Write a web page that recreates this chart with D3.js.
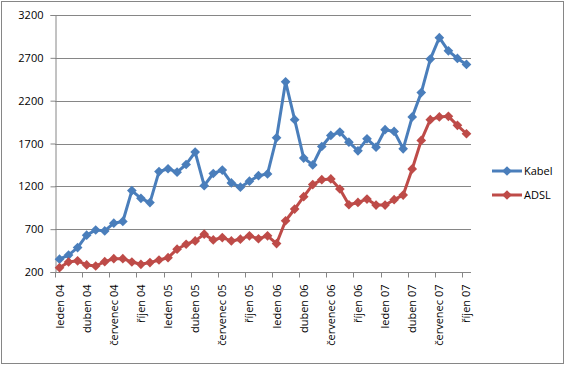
<!DOCTYPE html>
<html>
<head>
<meta charset="utf-8">
<script src="https://cdn.jsdelivr.net/npm/d3@7"></script>
<style>
  body { margin: 0; background: #fff; }
  text { font-family: "Open Sans", "Liberation Sans", sans-serif; font-size: 11px; fill: #000; }
</style>
</head>
<body>
<svg id="chart" width="566" height="366"></svg>
<script>
// months Jan 2004 .. Oct 2007
var monthNames = ['leden', 'únor', 'březen', 'duben', 'květen', 'červen',
  'červenec', 'srpen', 'září', 'říjen', 'listopad', 'prosinec'];
var years = ['04', '05', '06', '07'];
var months = [];
years.forEach(function(y) {
  monthNames.forEach(function(m) { months.push(m + ' ' + y); });
});
months = months.slice(0, 46);

var kabel = [350, 398, 485, 630, 690, 680, 770, 790, 1150, 1060, 1010, 1372,
  1405, 1365, 1455, 1600, 1208, 1350, 1390, 1240, 1190, 1260, 1325, 1345,
  1767, 2420, 1978, 1530, 1450, 1665, 1794, 1833, 1716, 1615, 1755, 1657,
  1861, 1841, 1638, 2010, 2294, 2685, 2935, 2782, 2693, 2623];
var adsl = [250, 317, 330, 282, 270, 320, 356, 356, 317, 290, 310, 340,
  367, 466, 524, 563, 641, 574, 602, 563, 583, 622, 588, 622,
  532, 798, 935, 1079, 1220, 1278, 1286, 1169, 985, 1012, 1051, 981,
  981, 1044, 1098, 1403, 1736, 1978, 2010, 2017, 1912, 1814];
var yTicks = [200, 700, 1200, 1700, 2200, 2700, 3200];

var series = [
  { name: 'Kabel', values: kabel, color: '#4A7EBB' },
  { name: 'ADSL', values: adsl, color: '#BE4B48' }
];

var svg = d3.select('#chart');
var margin = { top: 15, right: 95, bottom: 94, left: 55 };
var width = 566 - margin.left - margin.right;
var height = 366 - margin.top - margin.bottom;

svg.append('rect')
  .attr('x', 1.5).attr('y', 1.5).attr('width', 562).attr('height', 362)
  .attr('fill', '#fff').attr('stroke', '#868686');

var g = svg.append('g')
  .attr('transform', 'translate(' + margin.left + ',' + margin.top + ')');

var x = d3.scaleBand().domain(months).range([0, width]);
var y = d3.scaleLinear().domain([200, 3200]).range([height, 0]);

// gridlines
g.selectAll('.grid').data(yTicks).enter().append('line')
  .attr('x1', 0).attr('x2', width)
  .attr('y1', function(d) { return Math.round(y(d)) + 0.5; })
  .attr('y2', function(d) { return Math.round(y(d)) + 0.5; })
  .attr('stroke', '#868686');

// y axis
var yAxis = g.append('g').attr('transform', 'translate(0.5,0)')
  .call(d3.axisLeft(y).tickValues(yTicks).tickFormat(d3.format('d')).tickSize(5).tickPadding(7));
yAxis.select('.domain').attr('stroke', '#868686');
yAxis.selectAll('.tick line').attr('stroke', '#868686');
yAxis.selectAll('text').style('font-size', '11px')
  .attr('font-family', null);

// x axis: ticks at category boundaries every 3 months
var xa = g.append('g').attr('transform', 'translate(0,' + (Math.round(height) + 0.5) + ')');
xa.append('line').attr('x1', 0).attr('x2', width).attr('stroke', '#868686');
var bounds = months.map(function(m, i) { return i; }).filter(function(i) { return i % 3 === 0; });
xa.selectAll('.xt').data(bounds).enter().append('line')
  .attr('x1', function(i) { return Math.round(x(months[i])) + 0.5; })
  .attr('x2', function(i) { return Math.round(x(months[i])) + 0.5; })
  .attr('y1', 0).attr('y2', 5)
  .attr('stroke', '#868686');
xa.selectAll('.xl').data(bounds).enter().append('text')
  .attr('transform', function(i) {
    return 'translate(' + (x(months[i]) + x.bandwidth() / 2 + 4) + ',12) rotate(-90)';
  })
  .attr('text-anchor', 'end')
  .text(function(i) { return months[i]; });

// lines & markers
var line = d3.line()
  .x(function(d, i) { return x(months[i]) + x.bandwidth() / 2; })
  .y(function(d) { return y(d); });

var diamond = d3.symbol().type(d3.symbolDiamond2).size(60);

series.forEach(function(s) {
  g.append('path').datum(s.values)
    .attr('d', line)
    .attr('fill', 'none')
    .attr('stroke', s.color)
    .attr('stroke-width', 3)
    .attr('stroke-linejoin', 'round');
  g.selectAll(null).data(s.values).enter().append('path')
    .attr('d', diamond)
    .attr('transform', function(d, i) {
      return 'translate(' + (x(months[i]) + x.bandwidth() / 2) + ',' + y(d) + ')';
    })
    .attr('fill', s.color);
});

// legend
var legend = svg.append('g').attr('transform', 'translate(492,171)');
series.forEach(function(s, i) {
  var lg = legend.append('g').attr('transform', 'translate(0,' + (i * 24) + ')');
  lg.append('line').attr('x1', 0).attr('x2', 30).attr('stroke', s.color).attr('stroke-width', 3);
  lg.append('path').attr('d', diamond).attr('transform', 'translate(15,0)').attr('fill', s.color);
  lg.append('text').attr('x', 32).attr('y', 4).text(s.name);
});
</script>
</body>
</html>
